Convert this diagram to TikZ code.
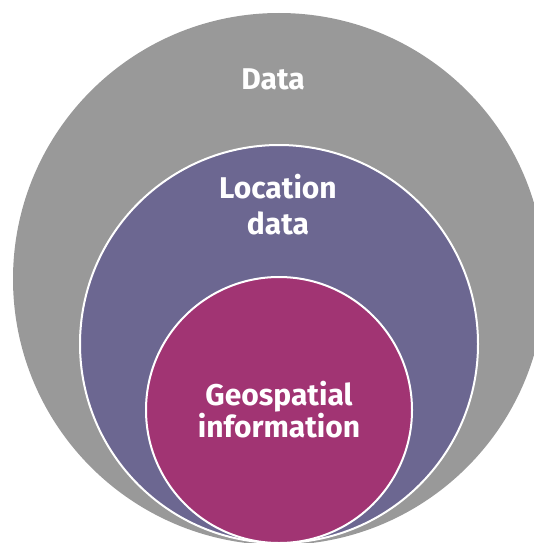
\documentclass[tikz,border=0pt]{standalone}
\usepackage{fontspec}
\setmainfont{Fira Sans}
\definecolor{outergray}{RGB}{153,153,153}
\definecolor{midpurple}{RGB}{108,103,145}
\definecolor{innermag}{RGB}{161,52,115}
\begin{document}
\begin{tikzpicture}[x=1pt,y=-1pt,
  ring/.style={draw=white,line width=2pt},
  lbl/.style={text=white,font=\bfseries\fontsize{30}{36}\selectfont,anchor=base,inner sep=0pt}]
\useasboundingbox (0,0) rectangle (534,543);
\begin{scope}
\clip (0,0) rectangle (534,543);
\fill[outergray] (279,279) circle[radius=266];
\draw[ring,fill=midpurple] (279,344) circle[radius=199];
\draw[ring,fill=innermag] (279,410) circle[radius=133];
\end{scope}
\node[lbl] (data) at (273,89) {Data};
\node[lbl] (loc1) at (278,198) {Location};
\node[lbl] (loc2) at (278,234) {data};
\node[lbl] (geo1) at (279,405) {Geospatial};
\node[lbl] (geo2) at (279,437) {information};
\end{tikzpicture}
\end{document}
